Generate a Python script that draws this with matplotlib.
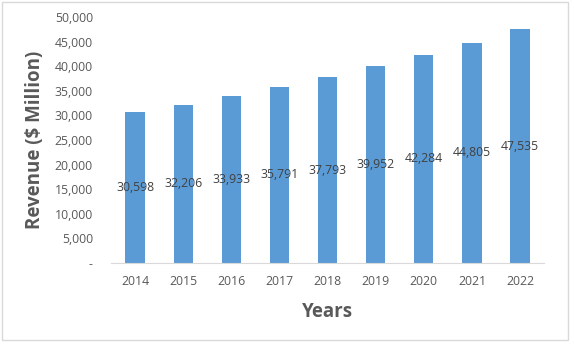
import matplotlib.pyplot as plt
from matplotlib.patches import Rectangle
from matplotlib.ticker import FuncFormatter

years = ["2014", "2015", "2016", "2017", "2018", "2019", "2020", "2021", "2022"]
revenue = [30598, 32206, 33933, 35791, 37793, 39952, 42284, 44805, 47535]
y_ticks = list(range(0, 50001, 5000))

text_color = "#595959"
bar_color = "#5B9BD5"
plt.rcParams["font.family"] = ["Open Sans", "DejaVu Sans"]

fig = plt.figure(figsize=(5.74, 3.48), dpi=100)
ax = fig.add_axes([0.1934, 0.2443, 0.7546, 0.7067])

x = range(len(years))
bars = ax.bar(x, revenue, width=0.4, color=bar_color)

# value labels sit in the middle of each bar
for xi, val in zip(x, revenue):
    ax.text(xi, val / 2, f"{val:,}", ha="center", va="center",
            fontsize=8.8, color="#404040")

ax.set_xlim(-0.5, len(years) - 0.5)
ax.set_ylim(0, 50000)
ax.set_xticks(list(x))
ax.set_xticklabels(years)
ax.set_yticks(y_ticks)
ax.yaxis.set_major_formatter(FuncFormatter(lambda v, p: "-" if v == 0 else f"{int(v):,}"))
ax.tick_params(axis="both", length=0, labelsize=8.8, labelcolor=text_color)
ax.tick_params(axis="x", pad=9)
ax.tick_params(axis="y", pad=13)

for side in ["top", "right", "left"]:
    ax.spines[side].set_visible(False)
ax.spines["bottom"].set_color("#D9D9D9")

ax.set_xlabel("Years", fontsize=13.5, fontweight="bold", color=text_color, labelpad=10)
ax.set_ylabel("Revenue ($ Million)", fontsize=13.5, fontweight="bold", color=text_color, labelpad=7)

# light outer frame like the spreadsheet chart area
fig.patches.append(Rectangle((0.004, 0.022), 0.985, 0.971, transform=fig.transFigure,
                             fill=False, edgecolor="#D9D9D9", linewidth=1))

fig.savefig("out.png", dpi=100)
